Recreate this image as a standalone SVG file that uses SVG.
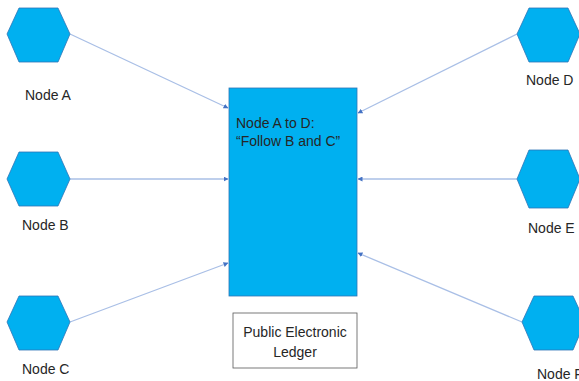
<svg xmlns="http://www.w3.org/2000/svg" width="579" height="381" viewBox="0 0 579 381">
<style>
.hex{fill:#00B0F0;stroke:#2E75B6;stroke-width:0.8}
.lbl{font-family:"Liberation Sans",Arial,sans-serif;font-size:14px;fill:#262626}
.conn{stroke:#A9BFE6;stroke-width:1.3;fill:none;marker-end:url(#ah)}
</style>
<defs>
<marker id="ah" viewBox="0 0 10 10" refX="9" refY="5" markerWidth="5" markerHeight="5" orient="auto" markerUnits="userSpaceOnUse">
<path d="M0,0 L10,5 L0,10 z" fill="#4472C4"/>
</marker>
</defs>
<rect width="579" height="381" fill="#fff"/>
<g id="connectors">
<line class="conn" x1="70" y1="34" x2="228" y2="108"/>
<line class="conn" x1="70" y1="179" x2="228" y2="179"/>
<line class="conn" x1="70" y1="322" x2="228" y2="263"/>
<line class="conn" x1="517" y1="34" x2="358" y2="113"/>
<line class="conn" x1="517" y1="179" x2="358" y2="179"/>
<line class="conn" x1="522" y1="322" x2="358" y2="253"/>
</g>
<g id="ledger">
<rect x="229" y="88" width="128" height="208" fill="#00B0F0" stroke="#2E75B6" stroke-width="0.8"/>
<text class="lbl" x="236" y="128">Node A to D:</text>
<text class="lbl" x="236" y="146">“Follow B and C”</text>
</g>
<g id="ledgerLabel">
<rect x="233" y="313" width="124" height="55" fill="#fff" stroke="#595959" stroke-width="0.8"/>
<text class="lbl" x="295" y="337" text-anchor="middle" font-size="13">Public Electronic</text>
<text class="lbl" x="295" y="357" text-anchor="middle" font-size="13">Ledger</text>
</g>
<g id="nodeA">
<polygon class="hex" points="7,34 19,8 58,8 70,34 58,62 19,62"/>
<text class="lbl" x="25" y="100">Node A</text>
</g>
<g id="nodeB">
<polygon class="hex" points="7,179 19,152 58,152 70,179 58,206 19,206"/>
<text class="lbl" x="22" y="230">Node B</text>
</g>
<g id="nodeC">
<polygon class="hex" points="7,322 19,296 58,296 70,322 58,350 19,350"/>
<text class="lbl" x="22" y="374">Node C</text>
</g>
<g id="nodeD">
<polygon class="hex" points="517,34 529,8 568,8 580,34 568,62 529,62"/>
<text class="lbl" x="526" y="85">Node D</text>
</g>
<g id="nodeE">
<polygon class="hex" points="517,179 529,150 568,150 580,179 568,208 529,208"/>
<text class="lbl" x="528" y="233">Node E</text>
</g>
<g id="nodeF">
<polygon class="hex" points="522,322 534,296 573,296 585,322 573,350 534,350"/>
<text class="lbl" x="537" y="379">Node F</text>
</g>
</svg>
